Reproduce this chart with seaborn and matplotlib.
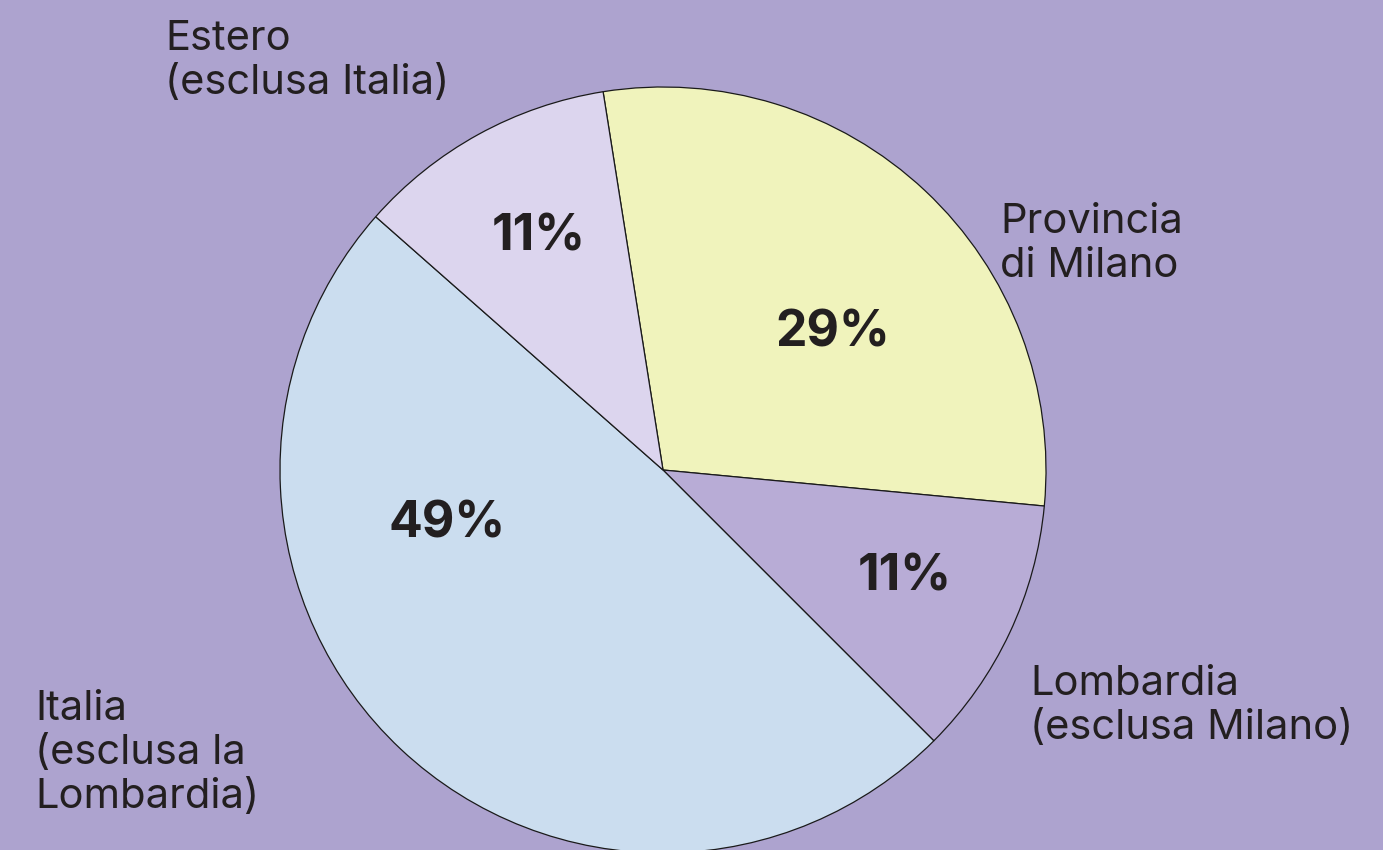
import matplotlib
matplotlib.use("Agg")
import matplotlib.pyplot as plt
import seaborn as sns
import numpy as np

# dati
categories = ["Provincia\ndi Milano", "Lombardia\n(esclusa Milano)",
              "Italia\n(esclusa la\nLombardia)", "Estero\n(esclusa Italia)"]
values = [29, 11, 49, 11]
colors = ["#F0F3BC", "#B8ACD6", "#CBDDEF", "#DCD5EE"]

BG = "#ADA3CF"
INK = "#231F20"

sns.set_theme(style="white")
plt.rcParams["font.family"] = ["Inter", "DejaVu Sans"]

fig = plt.figure(figsize=(13.83, 8.5), dpi=100, facecolor=BG)
# pie centred at (663, 470) px, radius 383 px
ax = fig.add_axes([280 / 1383, (850 - 853) / 850, 766 / 1383, 766 / 850])
ax.set_facecolor(BG)

wedges, _ = ax.pie(values, colors=colors, startangle=99, counterclock=False,
                   radius=1, wedgeprops=dict(edgecolor="#1a1a1a", linewidth=0.9))
ax.set_xlim(-1, 1)
ax.set_ylim(-1, 1)
ax.axis("off")

# posizioni etichette percentuali (angolo, raggio)
pct_pos = [(39, 0.57), (-24, 0.69), (194, 0.58), (118, 0.69)]
for v, (a, r) in zip(values, pct_pos):
    t = np.deg2rad(a)
    ax.text(r * np.cos(t), r * np.sin(t), f"{v}%", ha="center", va="center",
            fontsize=36, fontweight="bold", color=INK)

# etichette esterne (figura, px dall'alto a sinistra)
label_pos = [(1000, 203), (1030, 665), (35, 690), (165, 20)]
for lab, (x, y) in zip(categories, label_pos):
    fig.text(x / 1383, 1 - y / 850, lab, ha="left", va="top", fontsize=30,
             color=INK, linespacing=1.2)

fig.savefig("out.png", dpi=100, facecolor=BG)
